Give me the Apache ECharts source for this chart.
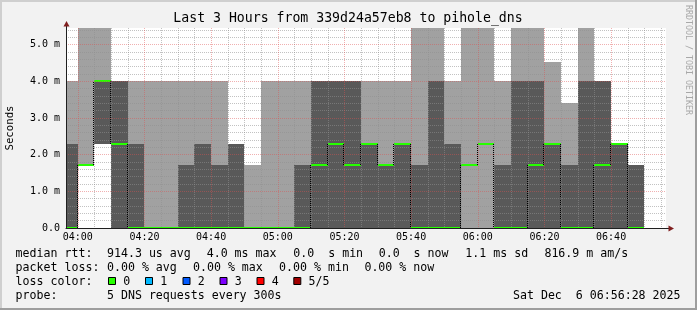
<!DOCTYPE html>
<html><head><meta charset="utf-8">
<script src="https://cdn.jsdelivr.net/npm/echarts@6/dist/echarts.min.js"></script>
<style>html,body{margin:0;padding:0;background:#f2f2f2;}#c{width:697px;height:310px;}</style>
</head><body><div id="c"></div>
<script>
// ---- axis ticks (minutes after 04:00) ----
const xTickValues = [0, 20, 40, 60, 80, 100, 120, 140, 160];
const xTickLabels = ['04:00', '04:20', '04:40', '05:00', '05:20', '05:40', '06:00', '06:20', '06:40'];
const xMinorValues = [5, 10, 15, 25, 30, 35, 45, 50, 55, 65, 70, 75, 85, 90, 95, 105, 110, 115, 125, 130, 135, 145, 150, 155, 165, 170, 175];
const yTickValues = [0, 1, 2, 3, 4, 5];
const yTickLabels = ['0.0', '1.0 m', '2.0 m', '3.0 m', '4.0 m', '5.0 m'];
const yMinorValues = [0.2, 0.4, 0.6, 0.8, 1.2, 1.4, 1.6, 1.8, 2.2, 2.4, 2.6, 2.8, 3.2, 3.4, 3.6, 3.8, 4.2, 4.4, 4.6, 4.8, 5.2, 5.4];
const windowStart = -3.533;   // 03:56:28
const windowEnd = 176.467;    // 06:56:28
const yMax = 5.455;

// ---- data: 5-minute steps, end minute after 04:00; sorted ping RTTs in ms ----
const stepEnd = [0, 5, 10, 15, 20, 25, 30, 35, 40, 45, 50, 55, 60, 65, 70, 75, 80, 85, 90, 95, 100, 105, 110, 115, 120, 125, 130, 135, 140, 145, 150, 155, 160, 165, 170];
const ping1 = [0, 1.71, 2.28, 0, 0, 0, 0, 0, 0, 0, 0, 0, 0, 0, 0, 0, 0, 0, 0, 0, 0, 0, 0, 0, 0, 0, 0, 0, 0, 0, 0, 0, 0, 0, 0];
const ping2 = [0, 1.71, 2.28, 0, 0, 0, 0, 0, 0, 0, 0, 0, 0, 0, 0, 0, 0, 0, 0, 0, 0, 0, 0, 0, 1.71, 2.28, 0, 0, 0, 0, 0, 0, 0, 0, 0];
const median = [0, 1.71, 4.0, 2.28, 0, 0, 0, 0, 0, 0, 0, 0, 0, 0, 0, 1.71, 2.28, 1.71, 2.28, 1.71, 2.28, 0, 0, 0, 1.71, 2.28, 0, 0, 1.71, 2.28, 0, 0, 1.71, 2.28, 0];
const ping4 = [2.28, 1.71, 4.0, 4.0, 2.28, 0, 0, 1.71, 2.28, 1.71, 2.28, 0, 0, 0, 1.71, 4.0, 4.0, 4.0, 2.28, 1.71, 2.28, 1.71, 4.0, 2.28, 1.71, 2.28, 1.71, 4.0, 4.0, 2.28, 1.71, 4.0, 4.0, 2.28, 1.71];
const ping5 = [4.0, 5.6, 5.6, 4.0, 4.0, 4.0, 4.0, 4.0, 4.0, 4.0, 2.28, 1.71, 4.0, 4.0, 4.0, 4.0, 4.0, 4.0, 4.0, 4.0, 4.0, 5.6, 5.6, 4.0, 5.6, 5.6, 4.0, 5.6, 5.6, 4.54, 3.42, 5.6, 4.0, 2.28, 1.71];

const lossColors = ['#26ff00', '#00b8ff', '#0059ff', '#7e00ff', '#ff0000', '#a10000'];
const lossLabels = ['0', '1', '2', '3', '4', '5/5'];

const LIGHT = '#a1a1a1', DARK = '#595959', GREEN = '#26ff00';
const MONO = 'DejaVu Sans Mono';
const GRID = {left: 66, top: 28, width: 600, height: 200};

const smokeData = stepEnd.map((e, i) => [e - 5, e, ping1[i], ping2[i], median[i], ping4[i], ping5[i], i > 0 ? median[i - 1] : median[i]]);

function renderSmoke(params, api) {
  const t0 = api.value(0), t1 = api.value(1);
  const p = [api.value(2), api.value(3), api.value(4), api.value(5), api.value(6)];
  const prev = api.value(7);
  const cs = params.coordSys;
  const box = {x: cs.x, y: cs.y, width: cs.width, height: cs.height};
  const children = [];
  function band(lo, hi, fill) {
    if (hi <= lo) return;
    const a = api.coord([t0, hi]), b = api.coord([t1, lo]);
    const x0 = Math.round(a[0]), y0 = Math.round(a[1]), x1 = Math.round(b[0]), y1 = Math.round(b[1]);
    const r = echarts.graphic.clipRectByRect({x: x0, y: y0, width: x1 - x0, height: y1 - y0}, box);
    if (r) children.push({type: 'rect', shape: r, style: {fill: fill}});
  }
  band(p[0], p[4], LIGHT);
  band(p[1], p[3], DARK);
  if (prev !== p[2]) {
    const a = api.coord([t0, prev]), b = api.coord([t0, p[2]]);
    const x = Math.round(a[0]) - 0.5;
    children.push({type: 'line', shape: {x1: x, y1: Math.round(a[1]), x2: x, y2: Math.round(b[1])},
      style: {stroke: '#000', lineWidth: 1, lineDash: [1, 1]}});
  }
  const m0 = api.coord([Math.max(t0, windowStart), p[2]]), m1 = api.coord([t1, p[2]]);
  const my = Math.round(m0[1]);
  children.push({type: 'line', shape: {x1: Math.round(m0[0]), y1: my, x2: Math.round(m1[0]), y2: my},
    style: {stroke: GREEN, lineWidth: 2}});
  return {type: 'group', children: children};
}

const graphics = [];
// frame
graphics.push({type: 'rect', shape: {x: 0, y: 0, width: 697, height: 2}, style: {fill: '#cfcfcf'}, z: 100});
graphics.push({type: 'rect', shape: {x: 0, y: 0, width: 2, height: 310}, style: {fill: '#cfcfcf'}, z: 100});
graphics.push({type: 'rect', shape: {x: 0, y: 308, width: 697, height: 2}, style: {fill: '#9e9e9e'}, z: 101});
graphics.push({type: 'rect', shape: {x: 695, y: 0, width: 2, height: 310}, style: {fill: '#9e9e9e'}, z: 101});
// title
graphics.push({type: 'text', x: 348, y: 19, style: {text: 'Last 3 Hours from 339d24a57eb8 to pihole_dns',
  font: '13.2px "' + MONO + '"', fill: '#000', align: 'center', verticalAlign: 'middle'}});
// y axis name
graphics.push({type: 'text', x: 10, y: 128, rotation: Math.PI / 2, style: {text: 'Seconds',
  font: '10.7px "' + MONO + '"', fill: '#000', align: 'center', verticalAlign: 'middle'}});
// watermark
graphics.push({type: 'text', x: 688, y: 60, rotation: -Math.PI / 2, style: {text: 'RRDTOOL / TOBI OETIKER',
  font: '8.3px "' + MONO + '"', fill: '#a8a8a8', align: 'center', verticalAlign: 'middle'}});
// axis extensions and arrows
graphics.push({type: 'line', shape: {x1: 666, y1: 228.5, x2: 669, y2: 228.5}, style: {stroke: '#1f1f1f', lineWidth: 1}, z: 50});
graphics.push({type: 'line', shape: {x1: 66.5, y1: 28, x2: 66.5, y2: 25}, style: {stroke: '#1f1f1f', lineWidth: 1}, z: 50});
graphics.push({type: 'polygon', shape: {points: [[668.5, 225.5], [674, 228.5], [668.5, 231.5]]}, style: {fill: '#801f1f'}, z: 50});
graphics.push({type: 'polygon', shape: {points: [[63.5, 26.5], [66.5, 21], [69.5, 26.5]]}, style: {fill: '#801f1f'}, z: 50});

// legend text
function txt(s, x, y) {
  graphics.push({type: 'text', x: x, y: y, style: {text: s, font: '11.6px "' + MONO + '"', fill: '#000', align: 'left', verticalAlign: 'middle'}});
}
const L1 = 254.3, L2 = 268.3, L3 = 282.3, L4 = 296;
txt('median rtt:', 15.6, L1);
txt('914.3 us avg', 107, L1);
txt('4.0 ms max', 206.7, L1);
txt('0.0  s min', 293.3, L1);
txt('0.0  s now', 378.7, L1);
txt('1.1 ms sd', 465.3, L1);
txt('816.9 m am/s', 544.4, L1);
txt('packet loss:', 15.6, L2);
txt('0.00 % avg', 107, L2);
txt('0.00 % max', 193, L2);
txt('0.00 % min', 279.1, L2);
txt('0.00 % now', 364.4, L2);
txt('loss color:', 15.6, L3);
const swX = [108, 145, 182.5, 219.5, 256.5, 293.3];
lossColors.forEach((c, i) => {
  graphics.push({type: 'rect', shape: {x: swX[i] + 0.5, y: 277.5, width: 7, height: 7}, style: {fill: c, stroke: '#000', lineWidth: 1}});
  txt(lossLabels[i], swX[i] + 15.3, L3);
});
txt('probe:', 15.6, L4);
txt('5 DNS requests every 300s', 107, L4);
graphics.push({type: 'text', x: 680.5, y: L4, style: {text: 'Sat Dec  6 06:56:28 2025', font: '11.6px "' + MONO + '"', fill: '#000', align: 'right', verticalAlign: 'middle'}});

const chart = echarts.init(document.getElementById('c'), null, {renderer: 'canvas', width: 697, height: 310});
chart.setOption({
  animation: false,
  backgroundColor: '#f2f2f2',
  grid: Object.assign({show: true, backgroundColor: '#ffffff', borderWidth: 0}, GRID),
  xAxis: [
    {type: 'value', min: windowStart, max: windowEnd, position: 'bottom', z: 4,
      axisLine: {show: true, onZero: false, lineStyle: {color: '#1f1f1f', width: 1}},
      axisTick: {show: false, customValues: xTickValues},
      axisLabel: {customValues: xTickValues, margin: 4, color: '#000', fontFamily: MONO, fontSize: 10,
        formatter: v => xTickLabels[xTickValues.indexOf(Math.round(v))]},
      splitLine: {show: true, lineStyle: {color: 'rgba(222,79,79,0.45)', width: 1, type: [1, 1]}}},
    {type: 'value', min: windowStart, max: windowEnd, position: 'top', z: 3,
      axisLine: {show: false}, axisLabel: {show: false},
      axisTick: {show: false, customValues: xMinorValues},
      splitLine: {show: true, lineStyle: {color: 'rgba(143,143,143,0.55)', width: 1, type: [1, 1]}}}
  ],
  yAxis: [
    {type: 'value', min: 0, max: yMax, position: 'left', z: 4,
      axisLine: {show: true, onZero: false, lineStyle: {color: '#1f1f1f', width: 1}},
      axisTick: {show: false, customValues: yTickValues},
      axisLabel: {customValues: yTickValues, margin: 6, color: '#000', fontFamily: MONO, fontSize: 10,
        formatter: v => yTickLabels[yTickValues.indexOf(Math.round(v))]},
      splitLine: {show: true, lineStyle: {color: 'rgba(222,79,79,0.45)', width: 1, type: [1, 1]}}},
    {type: 'value', min: 0, max: yMax, position: 'right', z: 3,
      axisLine: {show: false}, axisLabel: {show: false},
      axisTick: {show: false, customValues: yMinorValues},
      splitLine: {show: true, lineStyle: {color: 'rgba(143,143,143,0.55)', width: 1, type: [1, 1]}}}
  ],
  series: [{
    type: 'custom', xAxisIndex: 0, yAxisIndex: 0, z: 2, clip: true,
    renderItem: renderSmoke,
    encode: {x: [0, 1], y: [2, 3, 4, 5, 6]},
    data: smokeData
  }],
  graphic: graphics
});
</script>
</body></html>
